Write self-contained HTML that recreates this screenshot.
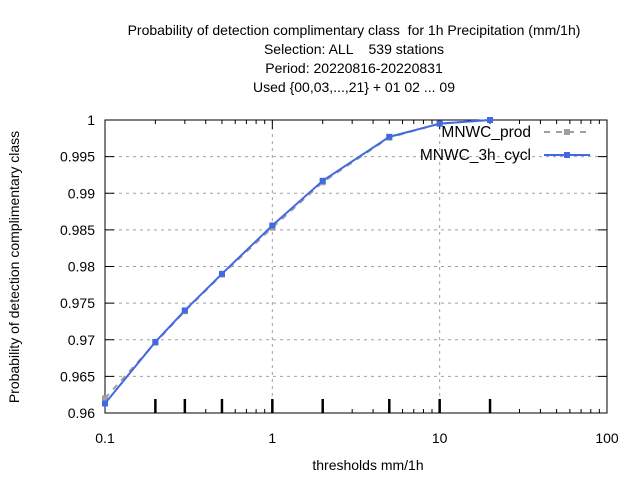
<!DOCTYPE html>
<html><head><meta charset="utf-8"><style>
html,body{margin:0;padding:0;background:#fff;}
svg{display:block;font-family:"Liberation Sans",sans-serif;}
text{white-space:pre;}
</style></head><body>
<svg id="chart" width="640" height="480" viewBox="0 0 640 480" xmlns="http://www.w3.org/2000/svg" xml:space="preserve">
<g font-size="14" text-anchor="middle" fill="#000">
<text x="354" y="35">Probability of detection complimentary class  for 1h Precipitation (mm/1h)</text>
<text x="354" y="54">Selection: ALL    539 stations</text>
<text x="354" y="73">Period: 20220816-20220831</text>
<text x="354" y="92">Used {00,03,...,21} + 01 02 ... 09</text>
</g>
<text font-size="14" text-anchor="middle" transform="translate(19,267) rotate(-90)">Probability of detection complimentary class</text>
<text font-size="14" text-anchor="middle" x="368" y="470">thresholds mm/1h</text>
<g id="grid"></g><g id="axes"></g><g id="series"></g><g id="legend"></g>
</svg>
<script>
const thresholds=[0.1,0.2,0.3,0.5,1,2,5,10,20];
const prodValues=[0.9620,0.9696,0.9739,0.9789,0.9853,0.9915,0.9976,0.9995,1.0];
const cyclValues=[0.9613,0.9697,0.9740,0.9790,0.9856,0.9917,0.9977,0.9995,1.0];
const yTicks=[0.96,0.965,0.97,0.975,0.98,0.985,0.99,0.995,1];
const yTickLabels=["0.96","0.965","0.97","0.975","0.98","0.985","0.99","0.995","1"];
const xMajor=[0.1,1,10,100];
const xMajorLabels=["0.1","1","10","100"];
const L=105,R=607,T=120,B=413;
const X=v=>L+(Math.log10(v)+1)/3*(R-L);
const Y=v=>B-(v-0.96)/0.04*(B-T);
const NS="http://www.w3.org/2000/svg";
function mk(tag,attrs,parent){const e=document.createElementNS(NS,tag);for(const k in attrs)e.setAttribute(k,attrs[k]);parent.appendChild(e);return e;}
const grid=document.getElementById('grid'),axes=document.getElementById('axes'),ser=document.getElementById('series'),leg=document.getElementById('legend');
yTicks.forEach((v,i)=>{const y=Y(v);
 if(i>0&&i<yTicks.length-1){const g=mk('line',{x1:L,x2:R,y1:y,y2:y,stroke:'#a0a0a0','stroke-dasharray':'3,4','stroke-width':1},grid);
 
 }
 mk('line',{x1:L,x2:L+9,y1:y,y2:y,stroke:'#000'},axes);mk('line',{x1:R,x2:R-9,y1:y,y2:y,stroke:'#000'},axes);
 const t=mk('text',{x:L-10,y:y+5,'font-size':14,'text-anchor':'end'},axes);t.textContent=yTickLabels[i];
 
 
});
xMajor.forEach((v,i)=>{const x=X(v);
 if(i>0&&i<xMajor.length-1){const g=mk('line',{x1:x,x2:x,y1:T,y2:B,stroke:'#a0a0a0','stroke-dasharray':'3,4'},grid);
 
 }
 mk('line',{x1:x,x2:x,y1:B,y2:B-9,stroke:'#000'},axes);mk('line',{x1:x,x2:x,y1:T,y2:T+9,stroke:'#000'},axes);
 const t=mk('text',{x:x,y:B+30,'font-size':14,'text-anchor':'middle'},axes);t.textContent=xMajorLabels[i];
 
 
 if(i<3)for(let m=2;m<10;m++){const xm=X(v*m);mk('line',{x1:xm,x2:xm,y1:B,y2:B-4,stroke:'#000'},axes);mk('line',{x1:xm,x2:xm,y1:T,y2:T+4,stroke:'#000'},axes);}
});
thresholds.slice(1).forEach(v=>{const x=X(v);const k=mk('line',{x1:x,x2:x,y1:B-14,y2:B,stroke:'#000','stroke-width':2.5},axes);
 
 });
const fr=mk('rect',{x:L,y:T,width:R-L,height:B-T,fill:'none',stroke:'#000'},axes);


function series(vals,color,dash,name){
 const pl=mk('polyline',{points:thresholds.map((t,i)=>X(t)+','+Y(vals[i])).join(' '),fill:'none',stroke:color,'stroke-width':2,'stroke-dasharray':dash},ser);
 
 
 thresholds.forEach((t,i)=>{const p=mk('rect',{x:X(t)-3,y:Y(vals[i])-3,width:6,height:6,fill:color},ser);
 
 });
}
series(prodValues,'#a0a0a0','6,6','mnwc-prod');
series(cyclValues,'#4169e1','none','mnwc-3h-cycl');
[['MNWC_prod','#a0a0a0','6,6',132],['MNWC_3h_cycl','#4169e1','none',155]].forEach(([n,c,d,y])=>{
 const g=mk('g',{},leg);
 
 
 const t=mk('text',{x:531,y:y+5,'font-size':15.5,'text-anchor':'end'},g);t.textContent=n;
 mk('line',{x1:544,x2:590,y1:y,y2:y,stroke:c,'stroke-width':2,'stroke-dasharray':d},g);
 mk('rect',{x:564,y:y-3,width:6,height:6,fill:c},g);
});
</script>
</body></html>
